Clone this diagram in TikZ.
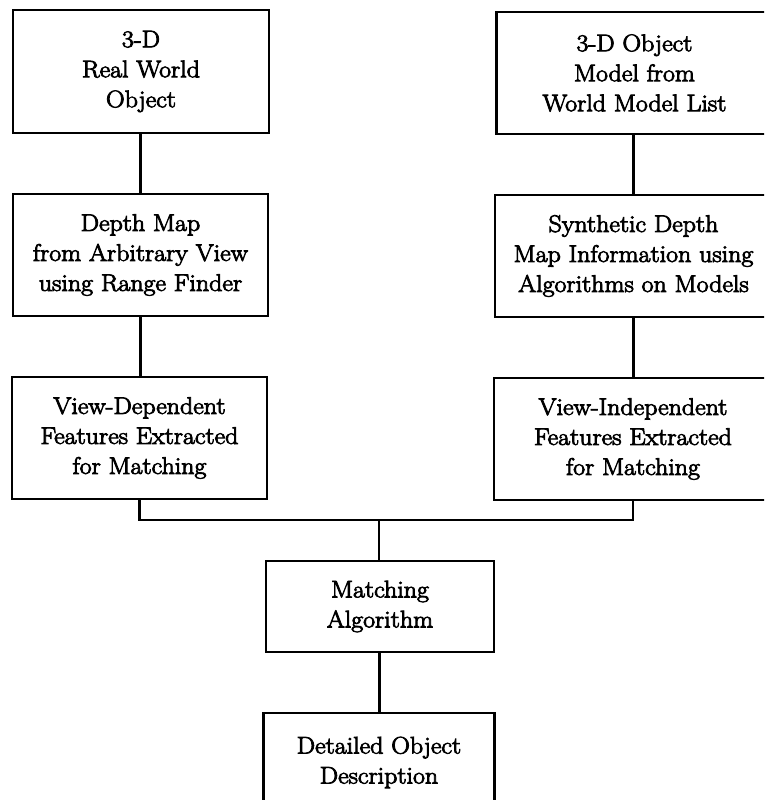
\documentclass[tikz,border=0pt]{standalone}
\usepackage{fontspec}
\setmainfont{Latin Modern Roman}[FakeStretch=1.08, FakeBold=3.5]
\begin{document}
\begin{tikzpicture}[x=1pt,y=-1pt,
  stage/.style={draw, line width=2.2pt, rectangle, inner sep=0pt, align=center,
    font=\fontsize{24}{30}\selectfont},
  link/.style={line width=2.2pt}]
\useasboundingbox (0,0) rectangle (764,800);
\clip (0,0) rectangle (764,800);

% left branch: measured object
\node[stage, minimum width=256pt, minimum height=123pt] (real) at (141,71.5)
  {3-D\\Real World\\Object};
\node[stage, minimum width=255pt, minimum height=122pt] (depth) at (140.5,255)
  {Depth Map\\from Arbitrary View\\using Range Finder};
\node[stage, minimum width=255pt, minimum height=122pt] (vdep) at (139.5,438)
  {View-Dependent\\Features Extracted\\for Matching};

% right branch: model object
\node[stage, minimum width=276pt, minimum height=122pt] (model) at (634.5,73)
  {3-D Object\\Model from\\World Model List};
\node[stage, minimum width=277pt, minimum height=122pt] (synth) at (633.5,256)
  {Synthetic Depth\\Map Information using\\Algorithms on Models};
\node[stage, minimum width=278pt, minimum height=122pt] (vind) at (633,439)
  {View-Independent\\Features Extracted\\for Matching};

% matching and result
\node[stage, minimum width=228pt, minimum height=91pt] (match) at (380,606.5)
  {Matching\\Algorithm};
\node[stage, minimum width=231pt, minimum height=99pt] (result) at (379,762.5)
  {Detailed Object\\Description};

\coordinate (join) at (379,520);

\draw[link] (real.south -| depth.north) -- (depth.north);
\draw[link] (depth.south) -- (vdep.north -| depth.south);
\draw[link] (model.south -| synth.north) -- (synth.north);
\draw[link] (synth.south) -- (vind.north -| synth.south);
\draw[link] (vdep.south) |- (join) -| (vind.south);
\draw[link] (join) -- (join |- match.north);
\draw[line width=3pt] (match.south -| join) -- (result.north -| join);
\end{tikzpicture}
\end{document}
